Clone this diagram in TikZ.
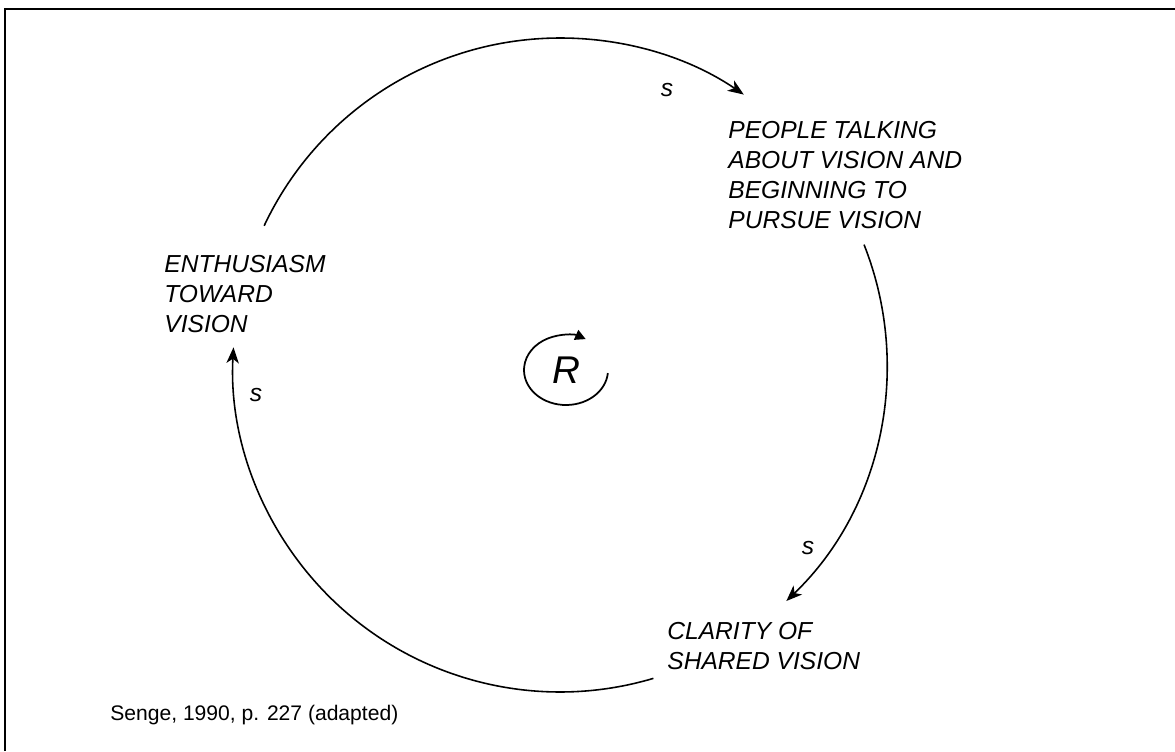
\documentclass[tikz,border=0pt]{standalone}
\usepackage{fontspec}
\setmainfont{Liberation Sans}
\usetikzlibrary{arrows.meta}

\begin{document}
\begin{tikzpicture}[
  x=0.02cm, y=0.02cm,
  lbl/.style={align=left, inner sep=0pt, anchor=north west, font=\fontsize{14}{17.1}\selectfont\itshape},
  pol/.style={inner sep=0pt, font=\fontsize{14}{16}\selectfont\itshape},
  arr/.style={-{Stealth[length=9pt, width=7pt, inset=2.5pt]}, line width=0.9pt}
]
\useasboundingbox (0,0) rectangle (1175,-751);
\draw[line width=1.3pt] (5,-751) -- (5,-9) -- (1175,-9);
\coordinate (c) at (560,-365);
\node[lbl] (people) at (728,-121) {PEOPLE TALKING\\ ABOUT VISION AND\\ BEGINNING TO\\ PURSUE VISION};
\node[lbl] (clarity) at (667,-622) {CLARITY OF\\ SHARED VISION};
\node[lbl] (enthus) at (164,-255) {ENTHUSIASM\\ TOWARD\\ VISION};
\node[anchor=base west, inner sep=0pt, font=\fontsize{12}{14}\selectfont] (source) at (110,-720) {Senge, 1990, p. 227 (adapted)};
% the loop
\draw[arr] (c) ++(154.8:327) arc[start angle=154.8, end angle=55.8, radius=327];
\draw[arr] (c) ++(21.6:327) arc[start angle=21.6, end angle=-46.2, radius=327];
\draw[arr] (c) ++(-73.4:327) arc[start angle=-73.4, end angle=-183.1, radius=327];
\node[pol] (s1) at (667,-90) {s};
\node[pol] (s2) at (808,-548) {s};
\node[pol] (s3) at (256,-395) {s};
% reinforcing symbol
\node[inner sep=0pt, font=\fontsize{22}{24}\selectfont\itshape] (loopR) at (566,-370) {R};
\draw[line width=1pt, -{Triangle[length=6pt, width=6pt]}] (loopR) ++(-5:42 and 35) arc[start angle=-5, end angle=-298, x radius=42, y radius=35];
\end{tikzpicture}
\end{document}
